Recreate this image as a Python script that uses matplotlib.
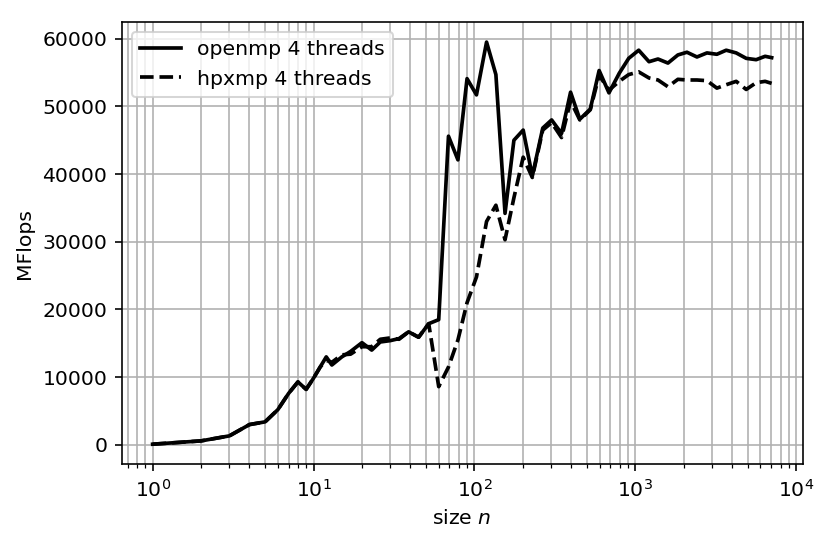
import matplotlib
matplotlib.use("Agg")
import matplotlib.pyplot as plt

# problem sizes n
sizes = [1, 2, 3, 4, 5, 6, 7, 8, 9, 10, 11, 12, 13, 15, 17, 20, 23, 26, 30, 34,
         39, 45, 52, 60, 69, 79, 90, 103, 119, 136, 155, 176, 201, 229, 266, 302,
         348, 396, 452, 525, 596, 686, 795, 910, 1050, 1217, 1384, 1596, 1840,
         2094, 2417, 2788, 3215, 3673, 4238, 4889, 5639, 6411, 7040]

# MFlops, openmp 4 threads
openmp = [100, 590, 1330, 3000, 3400, 5200, 7600, 9300, 8200, 9850, 11500, 13000,
          11800, 13000, 13800, 15100, 14000, 15200, 15400, 15700, 16700, 15900,
          17900, 18500, 45600, 42100, 54100, 51700, 59500, 54700, 34200, 45000,
          46500, 39700, 46800, 48000, 46000, 52100, 48100, 49600, 55300, 52000,
          54900, 57100, 58300, 56600, 57000, 56400, 57600, 58000, 57300, 57900,
          57700, 58300, 57900, 57100, 56900, 57400, 57200]

# MFlops, hpxmp 4 threads
hpxmp = [100, 590, 1330, 3000, 3400, 5200, 7600, 9300, 8200, 9850, 11500, 12500,
         12200, 13300, 13400, 14500, 14500, 15600, 15800, 15600, 16700, 15900,
         17900, 8600, 11500, 15500, 21000, 24800, 33000, 35400, 30300, 36500,
         42500, 39500, 46500, 47600, 45400, 50800, 48000, 49500, 54600, 52400,
         53700, 54700, 55100, 54200, 53900, 52900, 54000, 53900, 53900, 53800,
         52700, 53200, 53700, 52500, 53500, 53700, 53400]

dpi = 147
fig, ax = plt.subplots(figsize=(830 / dpi, 544 / dpi), dpi=dpi)
fig.subplots_adjust(left=0.1466, right=0.967, top=0.9596, bottom=0.1465)

ax.plot(sizes, openmp, "k-", lw=1.8, label="openmp 4 threads")
ax.plot(sizes, hpxmp, "k--", lw=1.8, label="hpxmp 4 threads")
ax.set_xscale("log")
ax.grid(True, which="both")
ax.set_xlabel("size $n$")
ax.set_ylabel("MFlops")
ax.legend(loc="upper left")

fig.savefig("out.png", dpi=dpi)
